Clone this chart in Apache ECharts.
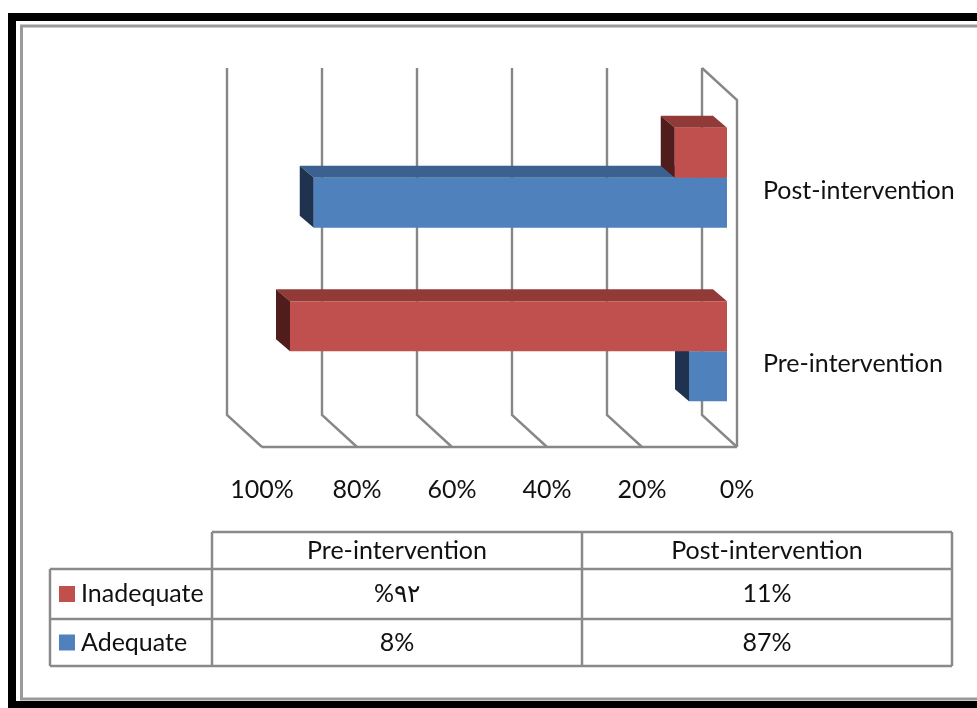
<!DOCTYPE html>
<html>
<head>
<meta charset="utf-8">
<script src="https://cdn.jsdelivr.net/npm/echarts@6/dist/echarts.min.js"></script>
<style>
  html, body { margin: 0; padding: 0; background: #ffffff; }
  #chart { width: 977px; height: 708px; }
</style>
</head>
<body>
<div id="chart"></div>
<script>
// ---- data ----
const categories = ['Pre-intervention', 'Post-intervention'];
const seriesNames = ['Inadequate', 'Adequate'];
const inadequate = [92, 11];
const adequate = [8, 87];
const inadequateText = ['%٩٢', '11%'];
const adequateText = ['8%', '87%'];
const xTicks = [0, 20, 40, 60, 80, 100];

// ---- styling ----
const FONT = 'Lato, "Liberation Sans", sans-serif';
const FONT_SIZE = 25;
const TEXT = '#111111';
const GRIDLINE = '#878787';
const palette = {
  Inadequate: { front: '#C0504D', top: '#923A37', side: '#501D1C' },
  Adequate:   { front: '#4F81BD', top: '#3B6190', side: '#1F3350' }
};

// the back wall sits up-left of the front floor edge
const WALL_DX = -35, WALL_DY = -32;
// bars stand inside the box, a little behind the front plane
const BAR_DX = -10, BAR_DY = -9;
const BAR_DEPTH_DX = -14, BAR_DEPTH_DY = -12;
const BAR_FRACTION = 50 / 173.5;

// back-wall gridlines, floor diagonals and the right side wall
function wallRender(params, api) {
  const cs = params.coordSys;
  const v = api.value(0);
  const x = api.coord([v, 0])[0];
  const top = cs.y, bottom = cs.y + cs.height;
  const style = { stroke: GRIDLINE, lineWidth: 2.4, fill: null };
  const children = [{
    type: 'polyline',
    shape: { points: [[x + WALL_DX, top + WALL_DY], [x + WALL_DX, bottom + WALL_DY], [x, bottom]] },
    style: style
  }];
  if (v === 0) {
    children.push({
      type: 'polyline',
      shape: { points: [[x + WALL_DX, top + WALL_DY], [x, top], [x, bottom]] },
      style: style
    });
    const xFar = api.coord([xTicks[xTicks.length - 1], 0])[0];
    children.push({ type: 'line', shape: { x1: xFar, y1: bottom, x2: x, y2: bottom }, style: style });
  }
  return { type: 'group', children: children };
}

// one 3D bar: top face, end face and front face
function barRender(name, slot) {
  const c = palette[name];
  return function (params, api) {
    const cat = api.value(1);
    const end = api.coord([api.value(0), cat]);
    const zero = api.coord([0, cat]);
    const h = api.size([0, 1])[1] * BAR_FRACTION;
    const xs = zero[0] + BAR_DX, xe = end[0] + BAR_DX;
    const yt = end[1] + slot * h + BAR_DY, yb = yt + h;
    const dx = BAR_DEPTH_DX, dy = BAR_DEPTH_DY;
    return {
      type: 'group',
      children: [
        { type: 'polygon', shape: { points: [[xe, yt], [xs, yt], [xs + dx, yt + dy], [xe + dx, yt + dy]] }, style: { fill: c.top } },
        { type: 'polygon', shape: { points: [[xe, yt], [xe + dx, yt + dy], [xe + dx, yb + dy], [xe, yb]] }, style: { fill: c.side } },
        { type: 'rect', shape: { x: xe, y: yt, width: xs - xe, height: h }, style: { fill: c.front } }
      ]
    };
  };
}

// ---- data table under the chart ----
const T = { left: 50, stub: 212, mid: 582, right: 952, head: 532, row1: 569, row2: 619, bottom: 666 };
function tableGraphics() {
  const ls = { stroke: '#8a8a8a', lineWidth: 2.5 };
  const g = [];
  const hline = (y, x1, x2) => g.push({ type: 'line', shape: { x1: x1, y1: y, x2: x2, y2: y }, style: ls });
  const vline = (x, y1, y2) => g.push({ type: 'line', shape: { x1: x, y1: y1, x2: x, y2: y2 }, style: ls });
  hline(T.head, T.stub, T.right);
  hline(T.row1, T.left, T.right);
  hline(T.row2, T.left, T.right);
  hline(T.bottom, T.left, T.right);
  vline(T.left, T.row1, T.bottom);
  vline(T.stub, T.head, T.bottom);
  vline(T.mid, T.head, T.bottom);
  vline(T.right, T.head, T.bottom);

  const txt = (s, x, y, align) => g.push({
    type: 'text', x: x, y: y,
    style: { text: s, fontFamily: FONT, fontSize: FONT_SIZE, fill: TEXT, align: align || 'center', verticalAlign: 'middle' }
  });
  const colX = [(T.stub + T.mid) / 2, (T.mid + T.right) / 2];
  const headY = (T.head + T.row1) / 2;
  const rowY = [(T.row1 + T.row2) / 2, (T.row2 + T.bottom) / 2];
  categories.forEach((c, i) => txt(c, colX[i], headY));
  const rowTexts = [inadequateText, adequateText];
  seriesNames.forEach((name, r) => {
    g.push({ type: 'rect', shape: { x: 59, y: rowY[r] - 8, width: 16, height: 16 }, style: { fill: palette[name].front } });
    txt(name, 81, rowY[r], 'left');
    rowTexts[r].forEach((s, i) => txt(s, colX[i], rowY[r]));
  });
  return g;
}

// ---- page frame ----
const frame = [
  { type: 'rect', shape: { x: 12, y: 17, width: 1000, height: 688 }, style: { fill: null, stroke: '#000', lineWidth: 8 } },
  { type: 'rect', shape: { x: 21.5, y: 26, width: 1000, height: 673 }, style: { fill: null, stroke: '#9a9a9a', lineWidth: 3 } }
];

const chart = echarts.init(document.getElementById('chart'), null, { renderer: 'canvas' });
chart.setOption({
  animation: false,
  backgroundColor: '#ffffff',
  grid: { left: 262, right: 240, top: 100, bottom: 261, containLabel: false },
  xAxis: {
    type: 'value', min: 0, max: 100, interval: 20, inverse: true,
    axisLine: { show: false }, axisTick: { show: false }, splitLine: { show: false },
    axisLabel: { formatter: '{value}%', margin: 30, fontFamily: FONT, fontSize: FONT_SIZE, color: TEXT }
  },
  yAxis: {
    type: 'category', data: categories, position: 'right',
    axisLine: { show: false }, axisTick: { show: false }, splitLine: { show: false },
    axisLabel: {
      margin: 26, align: 'left',
      formatter: '{cat|{value}}',
      rich: { cat: { padding: [8, 0, 0, 0], fontFamily: FONT, fontSize: FONT_SIZE, color: TEXT } }
    }
  },
  series: [
    { name: 'wall', type: 'custom', renderItem: wallRender, data: xTicks.map(v => [v]), encode: { x: 0 }, silent: true, z: 1 },
    { name: 'Adequate', type: 'custom', renderItem: barRender('Adequate', 0), data: adequate.map((v, i) => [v, i]), encode: { x: 0, y: 1 }, z: 2 },
    { name: 'Inadequate', type: 'custom', renderItem: barRender('Inadequate', -1), data: inadequate.map((v, i) => [v, i]), encode: { x: 0, y: 1 }, z: 3 }
  ],
  graphic: frame.concat(tableGraphics())
});
</script>
</body>
</html>
